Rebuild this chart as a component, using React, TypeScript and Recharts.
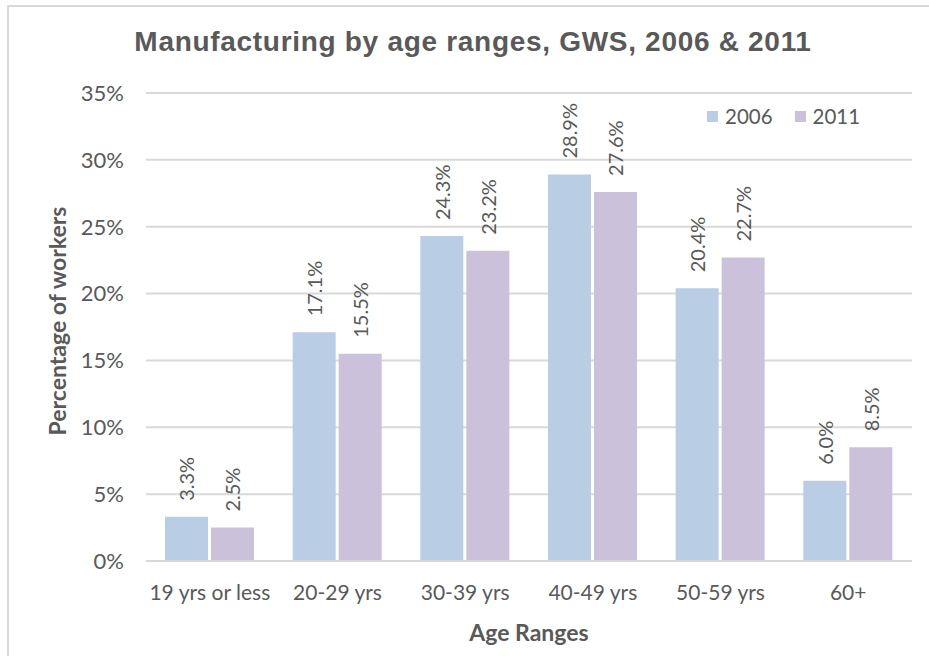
import { Bar, BarChart, CartesianGrid, LabelList, XAxis, YAxis } from 'recharts';

const ageRanges = ['19 yrs or less', '20-29 yrs', '30-39 yrs', '40-49 yrs', '50-59 yrs', '60+'];
const share2006 = [3.3, 17.1, 24.3, 28.9, 20.4, 6.0];
const share2011 = [2.5, 15.5, 23.2, 27.6, 22.7, 8.5];
const yTicks = [0, 5, 10, 15, 20, 25, 30, 35];
const seriesNames = ['2006', '2011'];

const data = ageRanges.map((range, i) => ({
  range,
  y2006: share2006[i],
  y2011: share2011[i],
}));

const FONT = 'Lato, "Open Sans", sans-serif';
const TITLE_FONT = '"Liberation Sans", Arial, sans-serif';
const TEXT = '#595959';
const GRID = '#D9D9D9';
const BLUE = '#B9CDE5';
const PURPLE = '#CCC1DA';
const COLORS = [BLUE, PURPLE];

// value labels sit rotated above each bar
function VerticalLabel(props: any) {
  const { x, y, width, value } = props;
  const cx = x + width / 2;
  const ty = y - 16;
  return (
    <text
      x={cx}
      y={ty}
      transform={`rotate(-90, ${cx}, ${ty})`}
      textAnchor="start"
      dominantBaseline="central"
      fill={TEXT}
      fontSize={20}
      fontFamily={FONT}
    >
      {`${Number(value).toFixed(1)}%`}
    </text>
  );
}

function LegendBox() {
  return (
    <div
      style={{
        position: 'absolute',
        left: 707,
        top: 104,
        display: 'flex',
        gap: 22,
        fontFamily: FONT,
        fontSize: 20.5,
        color: TEXT,
      }}
    >
      {seriesNames.map((name, i) => (
        <div key={name} style={{ display: 'flex', alignItems: 'center', gap: 7 }}>
          <span style={{ width: 11, height: 11, background: COLORS[i], display: 'inline-block' }} />
          <span>{name}</span>
        </div>
      ))}
    </div>
  );
}

export default function App() {
  return (
    <div
      style={{
        position: 'absolute',
        left: 0,
        top: 0,
        width: 929,
        height: 656,
        overflow: 'hidden',
        background: '#fff',
      }}
    >
      <div
        style={{
          position: 'absolute',
          left: 7,
          top: 5,
          width: 960,
          height: 700,
          border: `2px solid ${GRID}`,
        }}
      />
      <div
        style={{
          position: 'absolute',
          left: 0,
          width: 946,
          top: 26,
          textAlign: 'center',
          fontFamily: TITLE_FONT,
          fontWeight: 700,
          fontSize: 28,
          letterSpacing: 0.7,
          color: TEXT,
        }}
      >
        Manufacturing by age ranges, GWS, 2006 &amp; 2011
      </div>
      <BarChart
        width={929}
        height={656}
        data={data}
        margin={{ top: 93, right: 17, bottom: 65, left: 86 }}
        barGap={3}
        barCategoryGap={19}
        style={{ position: 'absolute', left: 0, top: 0 }}
      >
        <CartesianGrid vertical={false} stroke={GRID} strokeWidth={2} />
        <XAxis
          dataKey="range"
          axisLine={{ stroke: GRID, strokeWidth: 2 }}
          tickLine={false}
          tickMargin={18}
          height={30}
          tick={{ fill: TEXT, fontSize: 21, fontFamily: FONT }}
          label={{
            value: 'Age Ranges',
            position: 'insideBottom',
            offset: -50,
            fill: TEXT,
            fontSize: 23,
            fontWeight: 700,
            fontFamily: FONT,
          }}
        />
        <YAxis
          domain={[0, 35]}
          ticks={yTicks}
          width={60}
          axisLine={false}
          tickLine={false}
          tickSize={0}
          tickMargin={22}
          tickFormatter={(v) => `${v}%`}
          tick={{ fill: TEXT, fontSize: 22, fontFamily: FONT }}
          label={{
            value: 'Percentage of workers',
            angle: -90,
            position: 'center',
            dx: -58,
            dy: -6,
            fill: TEXT,
            fontSize: 23,
            fontWeight: 700,
            fontFamily: FONT,
          }}
        />
        <Bar dataKey="y2006" name="2006" fill={BLUE} isAnimationActive={false}>
          <LabelList dataKey="y2006" content={<VerticalLabel />} />
        </Bar>
        <Bar dataKey="y2011" name="2011" fill={PURPLE} isAnimationActive={false}>
          <LabelList dataKey="y2011" content={<VerticalLabel />} />
        </Bar>
      </BarChart>
      <LegendBox />
    </div>
  );
}
